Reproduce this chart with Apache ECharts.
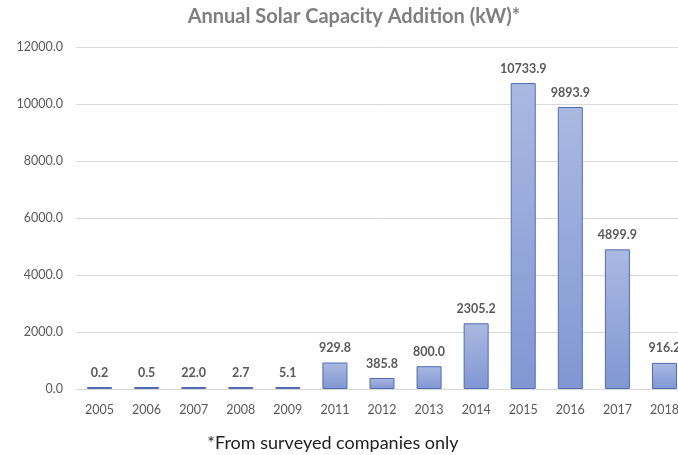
<!DOCTYPE html>
<html>
<head>
<meta charset="utf-8">
<script src="https://cdn.jsdelivr.net/npm/echarts@6/dist/echarts.min.js"></script>
<style>
  html, body { margin: 0; padding: 0; background: #fff; }
  #main { width: 678px; height: 455px; }
</style>
</head>
<body>
<div id="main"></div>
<script>
var years = ['2005', '2006', '2007', '2008', '2009', '2011', '2012', '2013', '2014', '2015', '2016', '2017', '2018'];
var capacity = [0.2, 0.5, 22.0, 2.7, 5.1, 929.8, 385.8, 800.0, 2305.2, 10733.9, 9893.9, 4899.9, 916.2];
var yTicks = [0, 2000, 4000, 6000, 8000, 10000, 12000];

var chartDom = document.getElementById('main');
var myChart = echarts.init(chartDom);
var font = 'Lato, "Open Sans", sans-serif';

var option = {
    animation: false,
    title: [
        {
            text: 'Annual Solar Capacity Addition (kW)*',
            left: 349, top: 2, textAlign: 'center',
            textStyle: { fontFamily: font, fontSize: 20, fontWeight: 'bold', color: '#7f7f7f' }
        },
        {
            text: '*From surveyed companies only',
            left: 328, top: 429, textAlign: 'center',
            textStyle: { fontFamily: font, fontSize: 18, fontWeight: 'normal', color: '#222' }
        }
    ],
    // the source chart runs past the right edge, so don't keep labels inside
    grid: { left: 76, top: 47, width: 612, height: 342, outerBoundsMode: 'none', containLabel: false },
    xAxis: {
        type: 'category',
        data: years,
        axisLine: { lineStyle: { color: '#d9d9d9' } },
        axisTick: { show: false },
        axisLabel: { fontFamily: font, fontSize: 12.5, color: '#595959', margin: 14 }
    },
    yAxis: {
        type: 'value',
        min: yTicks[0],
        max: yTicks[yTicks.length - 1],
        interval: 2000,
        axisLine: { show: false },
        axisTick: { show: false },
        splitLine: { lineStyle: { color: '#d9d9d9' } },
        axisLabel: {
            fontFamily: font, fontSize: 12.5, color: '#595959', margin: 13,
            formatter: function (v) { return v.toFixed(1); }
        }
    },
    series: [
        {
            type: 'bar',
            data: capacity,
            barWidth: 25,
            barMinHeight: 2,
            itemStyle: {
                color: new echarts.graphic.LinearGradient(0, 0, 0, 1, [
                    { offset: 0, color: '#aab9e2' },
                    { offset: 1, color: '#8197d3' }
                ]),
                borderColor: '#4f6cb4',
                borderWidth: 1
            },
            label: {
                show: true,
                position: 'top',
                distance: 8,
                fontFamily: font, fontSize: 12.5, fontWeight: 'bold', color: '#595959',
                formatter: function (p) { return p.value.toFixed(1); }
            }
        }
    ]
};

myChart.setOption(option);
</script>
</body>
</html>
